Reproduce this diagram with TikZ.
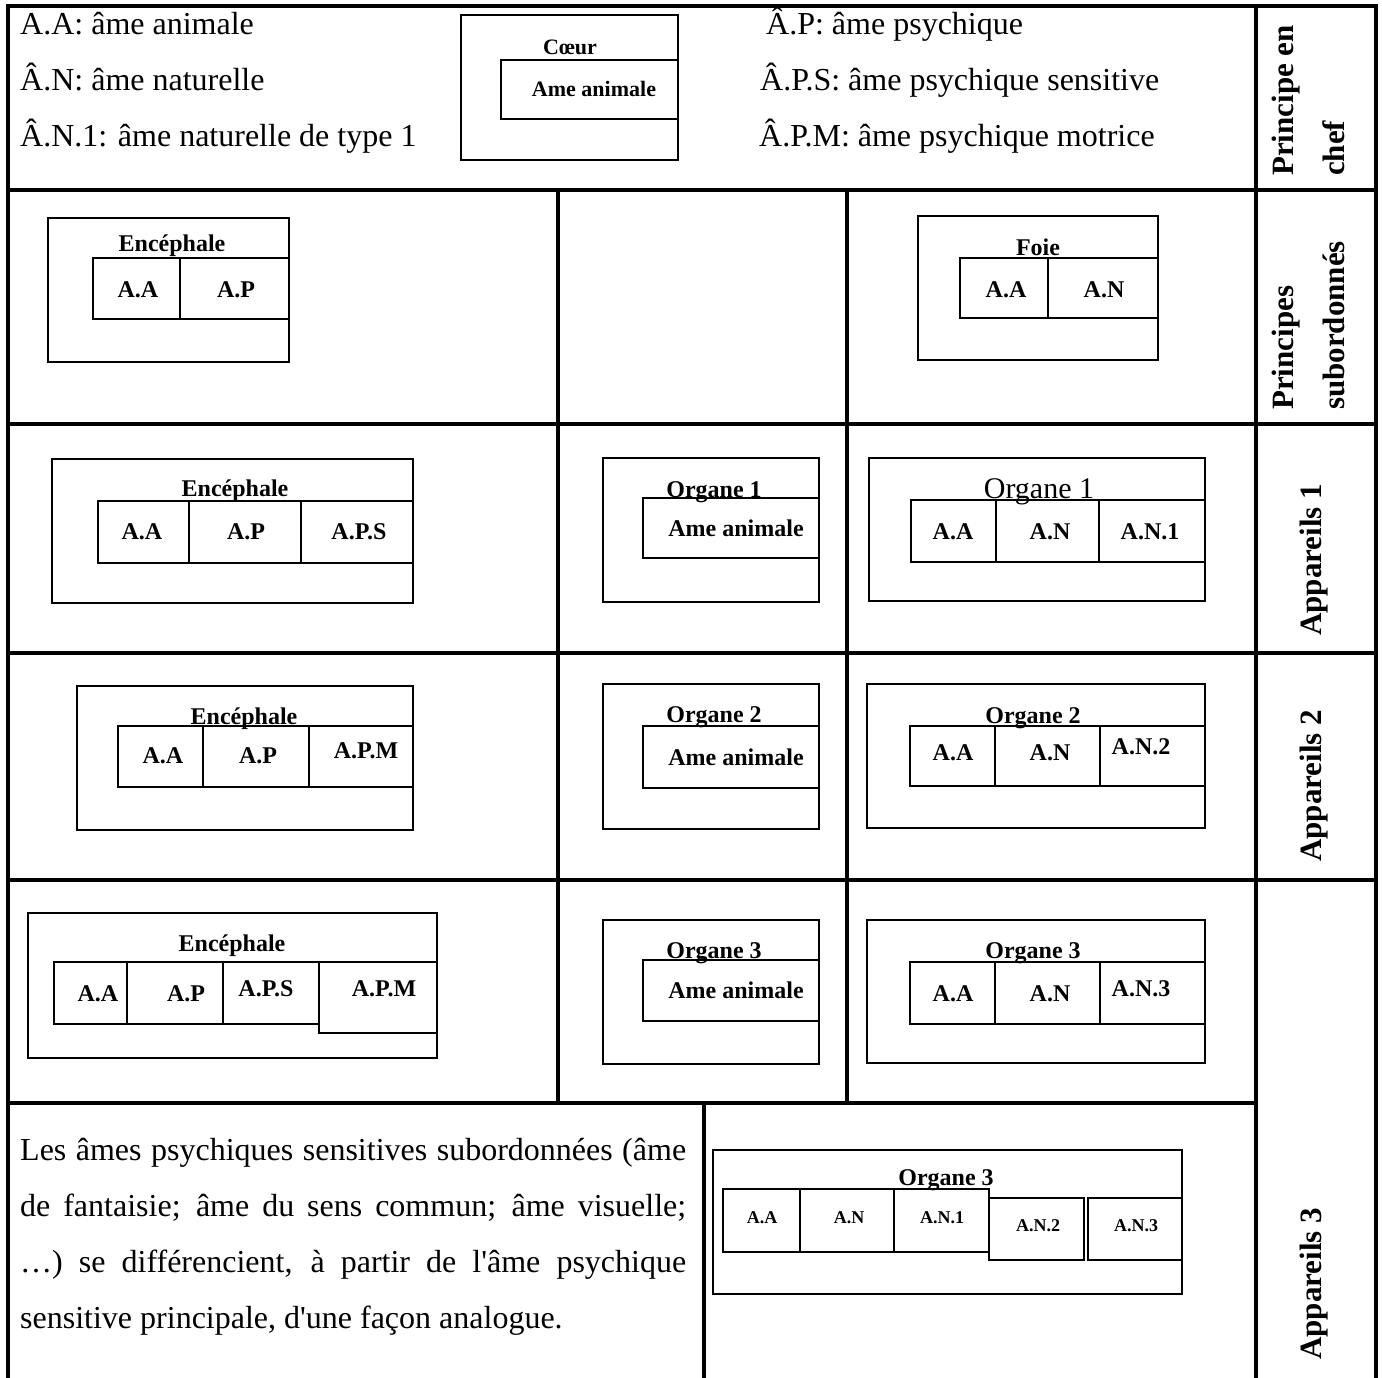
\documentclass[tikz,border=0pt]{standalone}
\usepackage{fontspec}
\setmainfont{Liberation Serif}[Ligatures=TeXOff]
\newcommand\hdrfont{\fontsize{32}{38}\selectfont}
\newcommand\boxfont{\bfseries\fontsize{24}{28}\selectfont}
\newcommand\tinyfont{\bfseries\fontsize{18}{21}\selectfont}
\newcommand\sidefont{\bfseries\fontsize{31}{36}\selectfont}
\begin{document}
\begin{tikzpicture}[x=1pt,y=-1pt,
  grid/.style={line width=3.2pt,line cap=rect},
  box/.style={line width=1.8pt},
  hdr/.style={font=\hdrfont,inner sep=0pt,anchor=base west},
  lbl/.style={font=\boxfont,inner sep=0pt,anchor=base},
  lblsmall/.style={font=\tinyfont,inner sep=0pt,anchor=base},
  side/.style={font=\sidefont,inner sep=0pt,rotate=90,anchor=base west}]
\useasboundingbox (0,0) rectangle (1382,1377);
\fill[white] (0,0) rectangle (1382,1377);

% table rules
\draw[grid] (8,1377) -- (8,6) -- (1376,6) -- (1376,1377);
\draw[grid] (1256,6) -- (1256,1377);
\draw[grid] (8,190) -- (1376,190);
\draw[grid] (8,424) -- (1376,424);
\draw[grid] (8,653) -- (1376,653);
\draw[grid] (8,880) -- (1376,880);
\draw[grid] (8,1103) -- (1256,1103);
\draw[grid] (558,190) -- (558,1103);
\draw[grid] (847,190) -- (847,1103);
\draw[grid] (704,1103) -- (704,1377);

% legend
\node[hdr] (defAA)  at (20,34)  {A.A: âme animale};
\node[hdr] (defAN)  at (20,90)  {Â.N: âme naturelle};
\node[hdr] (defAN1) at (20,146) {Â.N.1: âme naturelle de type 1};
\node[hdr] (defAP)  at (766,34)  {Â.P: âme psychique};
\node[hdr] (defAPS) at (760,90)  {Â.P.S: âme psychique sensitive};
\node[hdr] (defAPM) at (759,146) {Â.P.M: âme psychique motrice};

% heart
\draw[box] (461,15) rectangle (678,160);
\draw[box] (501,60) rectangle (678,119);
\node[lbl,font=\bfseries\fontsize{22}{26}\selectfont] (coeur) at (570,54) {Cœur};
\node[lbl,font=\bfseries\fontsize{22}{26}\selectfont] (coeurAA) at (594,96) {Ame animale};

% side labels
\node[side] (chefA) at (1293,176) {Principe en};
\node[side] (chefB) at (1344,176) {chef};
\node[side] (subA) at (1293,410) {Principes};
\node[side] (subB) at (1344,410) {subordonnés};
\node[side] (app1) at (1321,636) {Appareils 1};
\node[side] (app2) at (1321,862) {Appareils 2};
\node[side] (app3) at (1321,1360) {Appareils 3};

% subordinate principles: brain
\draw[box] (48,218) rectangle (289,362);
\draw[box] (93,258) rectangle (289,319);
\draw[box] (180,258) -- (180,319);
\node[lbl] (enc0) at (172,251) {Encéphale};
\node[lbl] (enc0AA) at (138,297) {A.A};
\node[lbl] (enc0AP) at (236,297) {A.P};

% subordinate principles: liver
\draw[box] (918,216) rectangle (1158,360);
\draw[box] (960,258) rectangle (1158,318);
\draw[box] (1048,258) -- (1048,318);
\node[lbl] (foie) at (1038,255) {Foie};
\node[lbl] (foieAA) at (1006,297) {A.A};
\node[lbl] (foieAN) at (1104,297) {A.N};

% apparatus 1
\draw[box] (52,459) rectangle (413,603);
\draw[box] (98,501) rectangle (413,563);
\draw[box] (189,501) -- (189,563);
\draw[box] (301,501) -- (301,563);
\node[lbl] (enc1) at (235,496) {Encéphale};
\node[lbl] (enc1AA) at (142,539) {A.A};
\node[lbl] (enc1AP) at (246,539) {A.P};
\node[lbl] (enc1APS) at (359,539) {A.P.S};

\draw[box] (603,458) rectangle (819,602);
\draw[box] (643,498) rectangle (819,558);
\node[lbl] (org1a) at (714,497) {Organe 1};
\node[lbl] (org1aAA) at (736,536) {Ame animale};

\draw[box] (869,458) rectangle (1205,601);
\draw[box] (911,500) rectangle (1205,562);
\draw[box] (996,500) -- (996,562);
\draw[box] (1099,500) -- (1099,562);
\node[font=\fontsize{30}{35}\selectfont,inner sep=0pt,anchor=base] (org1b) at (1039,498) {Organe 1};
\node[lbl] (org1bAA) at (953,539) {A.A};
\node[lbl] (org1bAN) at (1050,539) {A.N};
\node[lbl] (org1bAN1) at (1150,539) {A.N.1};

% apparatus 2
\draw[box] (77,686) rectangle (413,830);
\draw[box] (118,726) rectangle (413,787);
\draw[box] (203,726) -- (203,787);
\draw[box] (309,726) -- (309,787);
\node[lbl] (enc2) at (244,724) {Encéphale};
\node[lbl] (enc2AA) at (163,763) {A.A};
\node[lbl] (enc2AP) at (258,763) {A.P};
\node[lbl] (enc2APM) at (366,758) {A.P.M};

\draw[box] (603,684) rectangle (819,829);
\draw[box] (643,726) rectangle (819,788);
\node[lbl] (org2a) at (714,722) {Organe 2};
\node[lbl] (org2aAA) at (736,765) {Ame animale};

\draw[box] (867,684) rectangle (1205,828);
\draw[box] (910,726) rectangle (1205,786);
\draw[box] (995,726) -- (995,786);
\draw[box] (1100,726) -- (1100,786);
\node[lbl] (org2b) at (1033,723) {Organe 2};
\node[lbl] (org2bAA) at (953,760) {A.A};
\node[lbl] (org2bAN) at (1050,760) {A.N};
\node[lbl] (org2bAN2) at (1141,754) {A.N.2};

% apparatus 3
\draw[box] (28,913) rectangle (437,1058);
\draw[box] (54,962) rectangle (319,1024);
\draw[box] (127,962) -- (127,1024);
\draw[box] (223,962) -- (223,1024);
\draw[box] (319,962) rectangle (437,1033);
\node[lbl] (enc3) at (232,951) {Encéphale};
\node[lbl] (enc3AA) at (98,1001) {A.A};
\node[lbl] (enc3AP) at (186,1001) {A.P};
\node[lbl] (enc3APS) at (266,996) {A.P.S};
\node[lbl] (enc3APM) at (384,996) {A.P.M};

\draw[box] (603,920) rectangle (819,1064);
\draw[box] (643,960) rectangle (819,1021);
\node[lbl] (org3a) at (714,958) {Organe 3};
\node[lbl] (org3aAA) at (736,998) {Ame animale};

\draw[box] (867,920) rectangle (1205,1063);
\draw[box] (910,962) rectangle (1205,1024);
\draw[box] (995,962) -- (995,1024);
\draw[box] (1100,962) -- (1100,1024);
\node[lbl] (org3b) at (1033,958) {Organe 3};
\node[lbl] (org3bAA) at (953,1001) {A.A};
\node[lbl] (org3bAN) at (1050,1001) {A.N};
\node[lbl] (org3bAN3) at (1141,996) {A.N.3};

% closing remark
\node[hdr] (rem1) at (20,1160) {\makebox[666pt][s]{Les âmes psychiques sensitives subordonnées (âme}};
\node[hdr] (rem2) at (20,1216) {\makebox[666pt][s]{de fantaisie; âme du sens commun; âme visuelle;}};
\node[hdr] (rem3) at (20,1272) {\makebox[666pt][s]{…) se différencient, à partir de l'âme psychique}};
\node[hdr] (rem4) at (20,1328) {sensitive principale, d'une façon analogue.};

% organ 3, five natural souls
\draw[box] (713,1150) rectangle (1182,1294);
\draw[box] (723,1189) rectangle (989,1252);
\draw[box] (800,1189) -- (800,1252);
\draw[box] (894,1189) -- (894,1252);
\draw[box] (989,1198) rectangle (1084,1260);
\draw[box] (1088,1198) rectangle (1182,1260);
\node[lbl] (org3c) at (946,1185) {Organe 3};
\node[lblsmall] (org3cAA) at (762,1223) {A.A};
\node[lblsmall] (org3cAN) at (849,1223) {A.N};
\node[lblsmall] (org3cAN1) at (942,1223) {A.N.1};
\node[lblsmall] (org3cAN2) at (1038,1231) {A.N.2};
\node[lblsmall] (org3cAN3) at (1136,1231) {A.N.3};
\end{tikzpicture}
\end{document}
